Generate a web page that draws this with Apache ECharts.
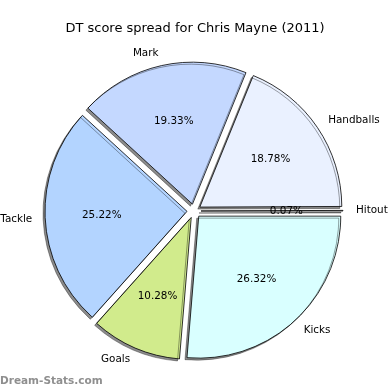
<!DOCTYPE html>
<html><head><meta charset="utf-8">
<script src="https://cdn.jsdelivr.net/npm/echarts@6/dist/echarts.min.js"></script>
<style>html,body{margin:0;padding:0;background:#fff}#c{width:390px;height:390px}</style>
</head><body><div id="c"></div>
<script>
var categories = ['Hitout', 'Handballs', 'Mark', 'Tackle', 'Goals', 'Kicks'];
var percents = [0.07, 18.78, 19.33, 25.22, 10.28, 26.32];
var colors = ['#ffffff', '#eaf1ff', '#c4d8ff', '#b3d4ff', '#d1eb8c', '#d9ffff'];
var labelAlign = ['left', 'left', 'right', 'right', 'right', 'left'];

var R = 142, OFF = 7, CX = 194, CY = 211;
var font = 'DejaVu Sans';

function mk(fn) { return categories.map(function (c, i) { return fn(c, i); }); }

var chart = echarts.init(document.getElementById('c'), null, {renderer: 'canvas'});
chart.setOption({
  animation: false,
  backgroundColor: '#ffffff',
  title: {
    text: 'DT score spread for Chris Mayne (2011)',
    left: 'center', top: 17,
    textStyle: {fontFamily: font, fontSize: 13, fontWeight: 'normal', color: '#000'}
  },
  graphic: [{
    type: 'text', left: 0, bottom: 3,
    style: {text: 'Dream-Stats.com', fontFamily: font, fontSize: 10.5, fontWeight: 'bold', fill: '#8f8f8f'}
  }],
  series: [
    {
      type: 'pie', center: [CX, CY], radius: [0, R],
      startAngle: 0, clockwise: false, avoidLabelOverlap: false,
      selectedMode: 'multiple', selectedOffset: OFF, silent: true,
      label: {show: false}, labelLine: {show: false},
      itemStyle: {borderColor: '#000', borderWidth: 0.8, shadowColor: 'rgba(0,0,0,0.45)', shadowOffsetX: -2, shadowOffsetY: 2, shadowBlur: 0},
      data: mk(function (c, i) { return {name: c, value: percents[i], selected: true, itemStyle: {color: colors[i]}}; })
    },
    {
      type: 'pie', center: [CX, CY], radius: [0, R * 1.16],
      startAngle: 0, clockwise: false, avoidLabelOverlap: false,
      selectedMode: 'multiple', selectedOffset: OFF, silent: true,
      itemStyle: {color: 'rgba(0,0,0,0)', borderWidth: 0},
      labelLine: {show: false},
      label: {show: true, position: 'inside', fontFamily: font, fontSize: 10.4, color: '#000',
        formatter: function (p) { return p.value.toFixed(2) + '%'; }},
      data: mk(function (c, i) { return {name: c, value: percents[i], selected: true}; })
    },
    {
      type: 'pie', center: [CX, CY], radius: [0, R * 2.14],
      startAngle: 0, clockwise: false, avoidLabelOverlap: false,
      selectedMode: 'multiple', selectedOffset: OFF, silent: true,
      itemStyle: {color: 'rgba(0,0,0,0)', borderWidth: 0},
      labelLine: {show: false},
      label: {show: true, position: 'inside', fontFamily: font, fontSize: 10.4, color: '#000',
        formatter: '{b}'},
      labelLayout: function (p) { return {align: labelAlign[p.dataIndex], verticalAlign: 'middle'}; },
      data: mk(function (c, i) { return {name: c, value: percents[i], selected: true}; })
    }
  ]
});
</script></body></html>
